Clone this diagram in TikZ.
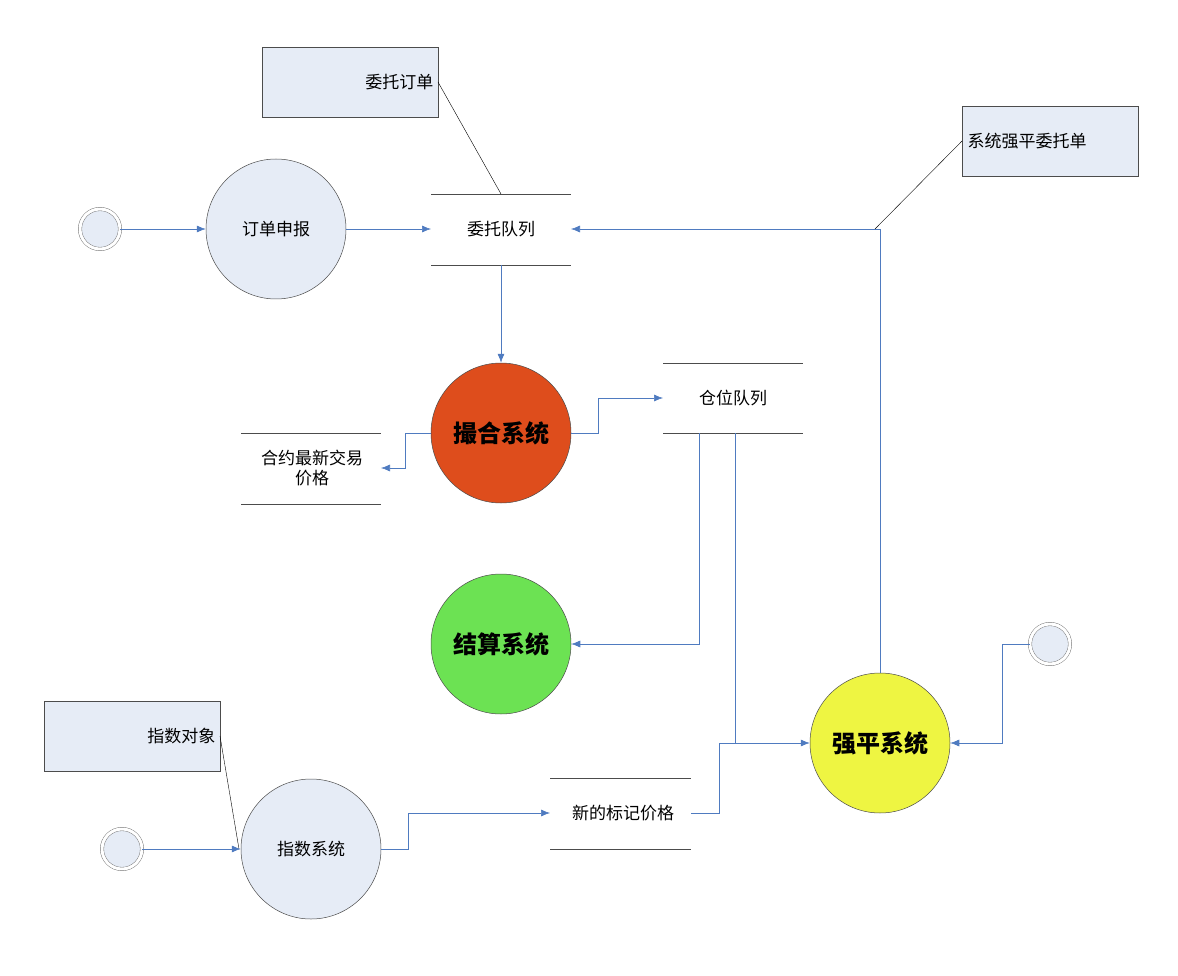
\documentclass[tikz,border=0pt]{standalone}
\usepackage{fontspec}
\setmainfont{Noto Sans CJK SC}
\usetikzlibrary{arrows.meta}
\definecolor{lb}{HTML}{E6ECF6}
\definecolor{ln}{HTML}{4F7BC0}
\definecolor{cred}{HTML}{DE4D1C}
\definecolor{cgreen}{HTML}{6CE253}
\definecolor{cyel}{HTML}{EEF542}
\tikzset{x=1pt,y=-1pt,
 proc/.style={circle,draw=black!70,line width=0.5pt,minimum size=140pt,inner sep=0pt,font=\fontsize{17}{20}\selectfont},
 bigproc/.style={proc,font=\fontsize{24}{28}\selectfont\bfseries},
 startc/.style={circle,draw=black!60,fill=lb,minimum size=40pt,inner sep=0pt,double=white,double distance=3pt},
 note/.style={draw=black!70,fill=lb,minimum width=176pt,minimum height=70pt,inner sep=0pt},
 flow/.style={draw=ln,line width=0.6pt,-{Latex[length=9pt,width=7pt]}},
 pline/.style={draw=ln,line width=0.6pt},
 aline/.style={draw=black,line width=0.4pt},
 txt/.style={font=\fontsize{17}{20}\selectfont}}
\newcommand{\store}[4]{\draw[black!70,line width=0.5pt] (#1,#2)--(#3,#2) (#1,#4)--(#3,#4);}
\begin{document}
\begin{tikzpicture}
\useasboundingbox (0,0) rectangle (1178,976);
% stores
\store{431}{194}{571}{265}
\node[txt] (wt) at (501,229) {委托队列};
\coordinate (wtE) at (571,229); \coordinate (wtW) at (431,229); \coordinate (wtS) at (501,265); \coordinate (wtN) at (501,194);
\store{663}{363}{803}{433}
\node[txt] (cw) at (733,398) {仓位队列};
\coordinate (cwW) at (663,398);
\store{241}{433}{381}{504}
\node[txt,align=center] (hy) at (312,468) {合约最新交易\\价格};
\coordinate (hyE) at (381,468);
\store{550}{778}{691}{849}
\node[txt] (xd) at (623,813) {新的标记价格};
\coordinate (xdW) at (550,813); \coordinate (xdE) at (691,813);
% processes
\node[proc,fill=lb] (dd) at (276,229) {订单申报};
\node[bigproc,fill=cred] (ch) at (501,433) {撮合系统};
\node[bigproc,fill=cgreen] (js) at (501,644) {结算系统};
\node[bigproc,fill=cyel] (qp) at (880,743) {强平系统};
\node[proc,fill=lb] (zs) at (311,849) {指数系统};
% starts
\node[startc] (s1) at (100,229) {};
\node[startc] (s2) at (1050,644) {};
\node[startc] (s3) at (122,849) {};
% notes
\node[note] (n1) at (350,82) {};
\node[txt,anchor=east] at (437,82) {委托订单};
\node[note] (n2) at (1050,141) {};
\node[txt,anchor=west] at (964,141) {系统强平委托单};
\node[note] (n3) at (132,736) {};
\node[txt,anchor=east] at (219,736) {指数对象};
% annotation lines
\draw[aline] (438,82)--(wtN);
\draw[aline] (962,141)--(875,229);
\draw[aline] (220,736)--(239,849);
% flows
\draw[flow] (s1)--(dd);
\draw[flow] (dd)--(wtW);
\draw[flow] (qp.north)--(880,229)--(wtE);
\draw[flow] (wtS)--(ch.north);
\draw[flow] (ch.east)--(598,433)--(598,398)--(cwW);
\draw[flow] (ch.west)--(405,433)--(405,468)--(hyE);
\draw[flow] (699,433)--(699,644)--(js.east);
\draw[flow] (735,433)--(735,743)--(qp.west);
\draw[flow] (s2.west)--(1002,644)--(1002,743)--(qp.east);
\draw[flow] (s3)--(zs);
\draw[flow] (zs.east)--(408,849)--(408,813)--(xdW);
\draw[pline] (xdE)--(719,813)--(719,743)--(735,743);
\end{tikzpicture}
\end{document}
